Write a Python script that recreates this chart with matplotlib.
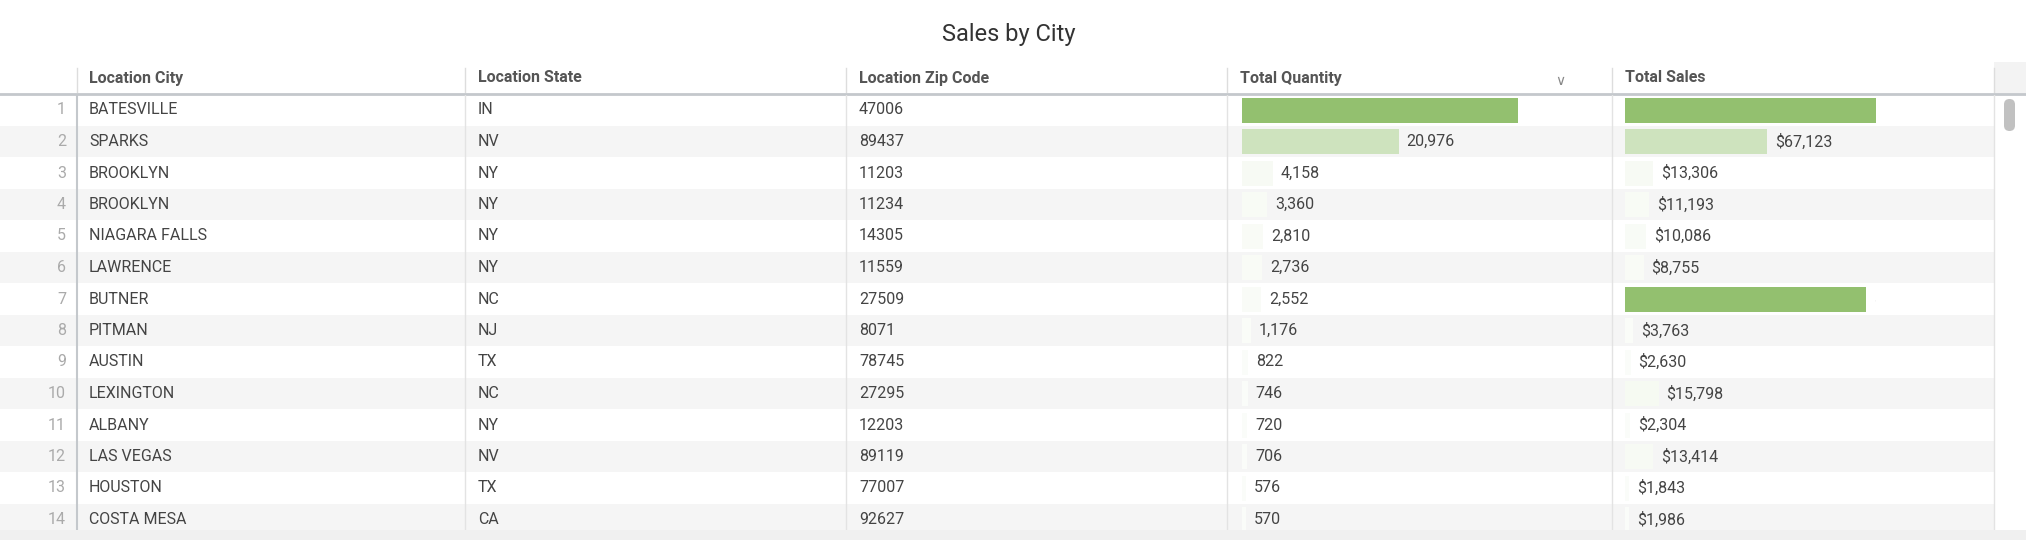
import matplotlib
matplotlib.use("Agg")
import matplotlib.pyplot as plt
from matplotlib.patches import Rectangle, FancyBboxPatch
import numpy as np

plt.rcParams['font.family'] = ['Roboto', 'DejaVu Sans']

cities = ["BATESVILLE", "SPARKS", "BROOKLYN", "BROOKLYN", "NIAGARA FALLS", "LAWRENCE", "BUTNER",
          "PITMAN", "AUSTIN", "LEXINGTON", "ALBANY", "LAS VEGAS", "HOUSTON", "COSTA MESA"]
states = ["IN", "NV", "NY", "NY", "NY", "NY", "NC", "NJ", "TX", "NC", "NY", "NV", "TX", "CA"]
zips = ["47006", "89437", "11203", "11234", "14305", "11559", "27509", "8071", "78745", "27295",
        "12203", "89119", "77007", "92627"]
quantity = [36954, 20976, 4158, 3360, 2810, 2736, 2552, 1176, 822, 746, 720, 706, 576, 570]
sales = [118253, 67123, 13306, 11193, 10086, 8755, 113615, 3763, 2630, 15798, 2304, 13414, 1843, 1986]
headers = ["Location City", "Location State", "Location Zip Code", "Total Quantity", "Total Sales"]

W, H = 2026, 540
fig = plt.figure(figsize=(W / 100, H / 100), dpi=100)
fig.patch.set_facecolor("white")

def fax(x0, y0, x1, y1):
    return fig.add_axes([x0 / W, 1 - y1 / H, (x1 - x0) / W, (y1 - y0) / H])

# background / header axes in pixel coords
bg = fax(0, 0, W, H)
bg.set_xlim(0, W); bg.set_ylim(H, 0); bg.axis("off")
bg.text(W / 2 - 4, 35, "Sales by City", ha="center", va="center", fontsize=17, color="#333333")
bg.add_patch(Rectangle((1994, 62), 32, 32, color="#f3f3f3", lw=0))
col_div = [77, 465, 846, 1227, 1612]
col_txt = [89, 478, 859, 1240, 1625]
for xd, xt, h in zip(col_div, col_txt, headers):
    bg.plot([xd, xd], [68, 92], color="#dddddd", lw=1)
    bg.text(xt, 78, h, ha="left", va="center", fontsize=11.5, fontweight="bold", color="#555555")
bg.plot([1994, 1994], [68, 92], color="#dddddd", lw=1)
bg.text(1560, 81, "\u2228", ha="center", va="center", fontsize=10, color="#888888",
        family=["DejaVu Sans"])
bg.plot([0, W], [94, 94], color="#c4c8cc", lw=2)
bg.add_patch(Rectangle((0, 530), W, 10, color="#f0f0f0", lw=0))

# body
Y0, Y1 = 95, 530
body = fax(0, Y0, W, Y1)
body.set_xlim(0, W); body.set_ylim(Y1, Y0); body.axis("off")
pitch = 31.5
n = len(cities)
centers = 110 + pitch * np.arange(n)
for i in range(n):
    if i % 2 == 1:
        body.add_patch(Rectangle((0, centers[i] - pitch / 2), 1994, pitch, color="#f5f5f5", lw=0))
for xd in col_div[1:]:
    body.plot([xd, xd], [Y0, Y1], color="#e3e3e3", lw=1)
body.plot([77, 77], [Y0, Y1], color="#c4c8cc", lw=1.5)
body.plot([1994, 1994], [Y0, Y1], color="#e3e3e3", lw=1)
body.add_patch(FancyBboxPatch((2004, 99), 11, 32, boxstyle="round,pad=0,rounding_size=5.5",
                              color="#c1c1c1", lw=0))
for i in range(n):
    y = centers[i]
    body.text(66, y, str(i + 1), ha="right", va="center", fontsize=11.5, color="#aaaaaa")
    body.text(col_txt[0], y, cities[i], ha="left", va="center", fontsize=11.5, color="#444444")
    body.text(col_txt[1], y, states[i], ha="left", va="center", fontsize=11.5, color="#444444")
    body.text(col_txt[2], y, zips[i], ha="left", va="center", fontsize=11.5, color="#444444")

green = np.array([0x93, 0xc0, 0x6f]) / 255
def shade(v, vmax):
    t = min(1.0, (v / vmax) ** 1.5)
    if v / vmax > 0.9:
        t = 1.0
    return tuple(1 - (1 - green) * (0.04 + 0.96 * t))

def bar_col(x0, width_px, vals, fmt):
    vmax = max(vals)
    ax = fax(x0, Y0, x0 + width_px, Y1)
    ax.set_xlim(0, vmax); ax.set_ylim(Y1, Y0); ax.axis("off")
    ax.barh(centers, vals, height=25, color=[shade(v, vmax) for v in vals], lw=0)
    for v, y in zip(vals, centers):
        ax.annotate(fmt(v), (v, y), xytext=(8, 0), textcoords="offset pixels",
                    ha="left", va="center", fontsize=11.5, color="#444444",
                    annotation_clip=False, clip_on=True)
    return ax

bar_col(1242, 276, quantity, lambda v: f"{v:,}")
bar_col(1625, 251, sales, lambda v: f"${v:,}")

fig.savefig("out.png", dpi=100, facecolor="white")
